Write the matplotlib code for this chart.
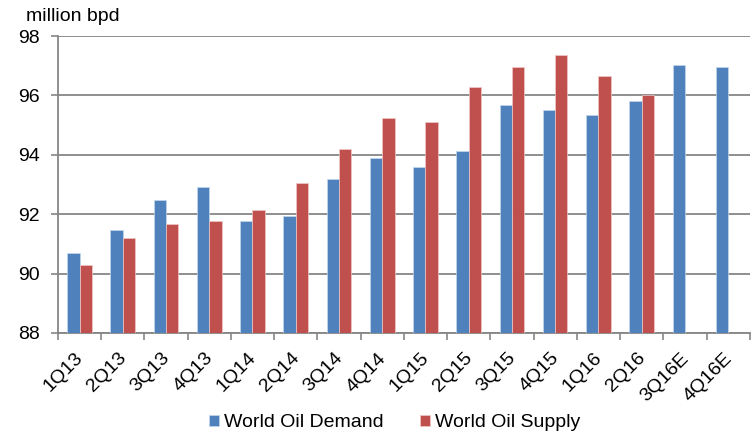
import matplotlib.pyplot as plt
import matplotlib.transforms as mtransforms
import numpy as np

plt.rcParams['font.family'] = ['Liberation Sans', 'DejaVu Sans']

quarters = ['1Q13', '2Q13', '3Q13', '4Q13', '1Q14', '2Q14', '3Q14', '4Q14',
            '1Q15', '2Q15', '3Q15', '4Q15', '1Q16', '2Q16', '3Q16E', '4Q16E']
demand = [90.7, 91.45, 92.47, 92.9, 91.77, 91.93, 93.2, 93.9,
          93.6, 94.12, 95.68, 95.52, 95.35, 95.8, 97.02, 96.97]
supply = [90.27, 91.18, 91.67, 91.77, 92.15, 93.06, 94.18, 95.25,
          95.1, 96.27, 96.97, 97.35, 96.64, 96.0, np.nan, np.nan]

blue = '#4F81BD'
red = '#C0504D'
grid_c = '#868686'

fig = plt.figure(figsize=(7.52, 4.34), dpi=100)
ax = fig.add_axes([0.077, 0.233, 0.920, 0.684])

x = np.arange(len(quarters))
w = 0.285
ax.bar(x - w/2, demand, w, color=blue, edgecolor='#c5d6ec', linewidth=0.5,
       label='World Oil Demand', zorder=3)
ax.bar(x + w/2, supply, w, color=red, edgecolor='#efc9c8', linewidth=0.5,
       label='World Oil Supply', zorder=3)

ax.set_ylim(88, 98)
ax.set_yticks([88, 90, 92, 94, 96, 98])
ax.set_xlim(-0.5, len(quarters) - 0.5)
ax.set_xticks(x)
ax.set_xticklabels(quarters, rotation=45, ha='right', rotation_mode='anchor')
ax.set_xticks(np.arange(-0.5, len(quarters), 1), minor=True)
ax.tick_params(axis='x', which='major', length=0, pad=12, labelsize=14)
ax.tick_params(axis='x', which='minor', length=5, color=grid_c, width=1.2)
ax.tick_params(axis='y', length=5, color=grid_c, width=1.2, labelsize=14, pad=8)

# nudge rotated labels a little to the left, like the original
shift = mtransforms.ScaledTranslation(-0.05, 0, fig.dpi_scale_trans)
for lbl in ax.get_xticklabels():
    lbl.set_transform(lbl.get_transform() + shift)

ax.grid(axis='y', color=grid_c, linewidth=1.3, zorder=0)
for s in ['top', 'right']:
    ax.spines[s].set_visible(False)
for s in ['left', 'bottom']:
    ax.spines[s].set_color(grid_c)
    ax.spines[s].set_linewidth(1.3)

fig.text(0.034, 0.962, 'million bpd', fontsize=14, va='center', ha='left')

fig.legend(loc='center', bbox_to_anchor=(0.525, 0.026), ncol=2, frameon=False,
           fontsize=14, handlelength=0.5, handleheight=0.5, columnspacing=1.9,
           handletextpad=0.25)

plt.savefig('out.png', dpi=100)
